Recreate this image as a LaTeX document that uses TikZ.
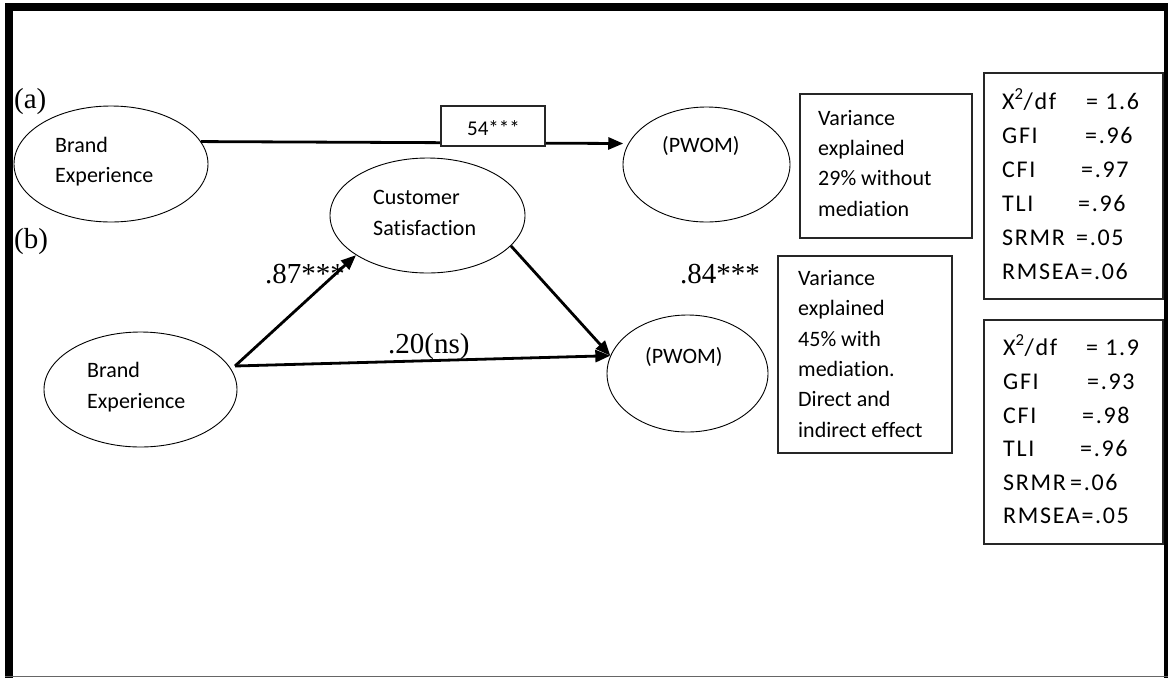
\documentclass[tikz,border=0pt]{standalone}
\usepackage{fontspec}
\setmainfont{Liberation Serif}
\newfontfamily\calib[Ligatures=NoCommon]{Carlito}
\newfontfamily\calibsp[LetterSpace=7,Ligatures=NoCommon]{Carlito}
\usetikzlibrary{arrows.meta,shapes.geometric}
\begin{document}
\begin{tikzpicture}[x=1pt,y=-1pt,
  ell/.style={draw, ellipse, line width=0.9pt, inner sep=0pt},
  txt/.style={anchor=base west, inner sep=0pt, font=\calib\fontsize{22}{26}\selectfont},
  fitt/.style={anchor=base west, inner sep=0pt, font=\calibsp\fontsize{24}{28}\selectfont},
  num/.style={anchor=base west, inner sep=0pt, font=\fontsize{29}{34}\selectfont},
  boxx/.style={draw=black!85, line width=1.5pt, rectangle, inner sep=0pt},
  arr/.style={line width=2.8pt, -{Triangle[length=15pt,width=12pt]}},
]
\useasboundingbox (0,0) rectangle (1170,681);
% frame
\fill[black] (5,3) rectangle (1168,11);
\fill[black] (5,3) rectangle (13,678);
\fill[black] (1164,3) rectangle (1167.5,678);
\fill[black!60] (5,675.5) rectangle (1167.5,677);

% ellipses
\node[ell, minimum width=194pt, minimum height=116pt] (a1) at (111,164) {};
\node[ell, minimum width=167pt, minimum height=115pt] (pa) at (706.5,164.5) {};
\node[ell, minimum width=195pt, minimum height=115pt] (cs) at (427.5,215.5) {};
\node[ell, minimum width=193pt, minimum height=115pt] (b1) at (140.5,389.5) {};
\node[ell, minimum width=161pt, minimum height=117pt] (pb) at (687.5,373.5) {};

% boxes
\node[boxx, minimum width=172pt, minimum height=144pt] (va) at (886,166) {};
\node[boxx, minimum width=174pt, minimum height=197pt] (vb) at (865,354.5) {};
\node[boxx, minimum width=179pt, minimum height=226pt] (f1) at (1073.5,186) {};
\node[boxx, minimum width=179pt, minimum height=224pt] (f2) at (1073.5,432) {};

% connectors
\coordinate (bs) at (235,366);
\draw[arr, shorten >=5pt] (a1.14) -- (pa.165);
\draw[arr] (bs) -- (cs.209);
\draw[arr] (cs.340) -- (pb.167);
\draw[arr] (bs) -- (pb.167);

% coefficient box on path (a)
\node[draw=black!85, fill=white, line width=1.3pt, minimum width=104pt, minimum height=40pt, inner sep=0pt] (c54) at (493,126) {};
\node[anchor=base west, inner sep=0pt, font=\calib\fontsize{21}{24}\selectfont] (c54t) at (467,135) {54***};

% labels
\node[num] (la) at (14,108) {(a)};
\node[num] (lb) at (14,248) {(b)};
\node[num] (l87) at (265,283) {.87***};
\node[num] (l84) at (680,283) {.84***};
\node[num] (l20) at (388,353) {.20(ns)};

% ellipse texts
\node[txt] (a1t1) at (55,152) {Brand};
\node[txt] (a1t2) at (55,182) {Experience};
\node[txt] (cst1) at (373,204) {Customer};
\node[txt] (cst2) at (373,235) {Satisfaction};
\node[txt] (b1t1) at (87,377) {Brand};
\node[txt] (b1t2) at (87,408) {Experience};
\node[txt] (pat) at (662,152) {(PWOM)};
\node[txt] (pbt) at (645,363) {(PWOM)};

% variance texts
\node[txt] (vat1) at (818,125) {Variance};
\node[txt] (vat2) at (818,155) {explained};
\node[txt] (vat3) at (818,185) {29\% without};
\node[txt] (vat4) at (818,216) {mediation};
\node[txt] (vbt1) at (798,285) {Variance};
\node[txt] (vbt2) at (798,315) {explained};
\node[txt] (vbt3) at (798,346) {45\% with};
\node[txt] (vbt4) at (798,376) {mediation.};
\node[txt] (vbt5) at (798,406) {Direct and};
\node[txt] (vbt6) at (798,437) {indirect effect};

% fit box 1
\node[fitt] (f1l1) at (1002,109) {X\textsuperscript{2}/df};
\node[fitt] (f1v1) at (1086,109) {= 1.6};
\node[fitt] (f1l2) at (1002,143) {GFI};
\node[fitt] (f1v2) at (1085,143) {=.96};
\node[fitt] (f1l3) at (1002,177) {CFI};
\node[fitt] (f1v3) at (1081,177) {=.97};
\node[fitt] (f1l4) at (1002,211) {TLI};
\node[fitt] (f1v4) at (1078,211) {=.96};
\node[fitt] (f1l5) at (1002,245) {SRMR};
\node[fitt] (f1v5) at (1076,245) {=.05};
\node[fitt] (f1l6) at (1002,279) {RMSEA=.06};

% fit box 2
\node[fitt] (f2l1) at (1003,355) {X\textsuperscript{2}/df};
\node[fitt] (f2v1) at (1086,355) {= 1.9};
\node[fitt] (f2l2) at (1003,389) {GFI};
\node[fitt] (f2v2) at (1087,389) {=.93};
\node[fitt] (f2l3) at (1003,423) {CFI};
\node[fitt] (f2v3) at (1082,423) {=.98};
\node[fitt] (f2l4) at (1003,456) {TLI};
\node[fitt] (f2v4) at (1080,456) {=.96};
\node[fitt] (f2l5) at (1003,490) {SRMR};
\node[fitt] (f2v5) at (1070,490) {=.06};
\node[fitt] (f2l6) at (1003,523) {RMSEA=.05};
\end{tikzpicture}
\end{document}
